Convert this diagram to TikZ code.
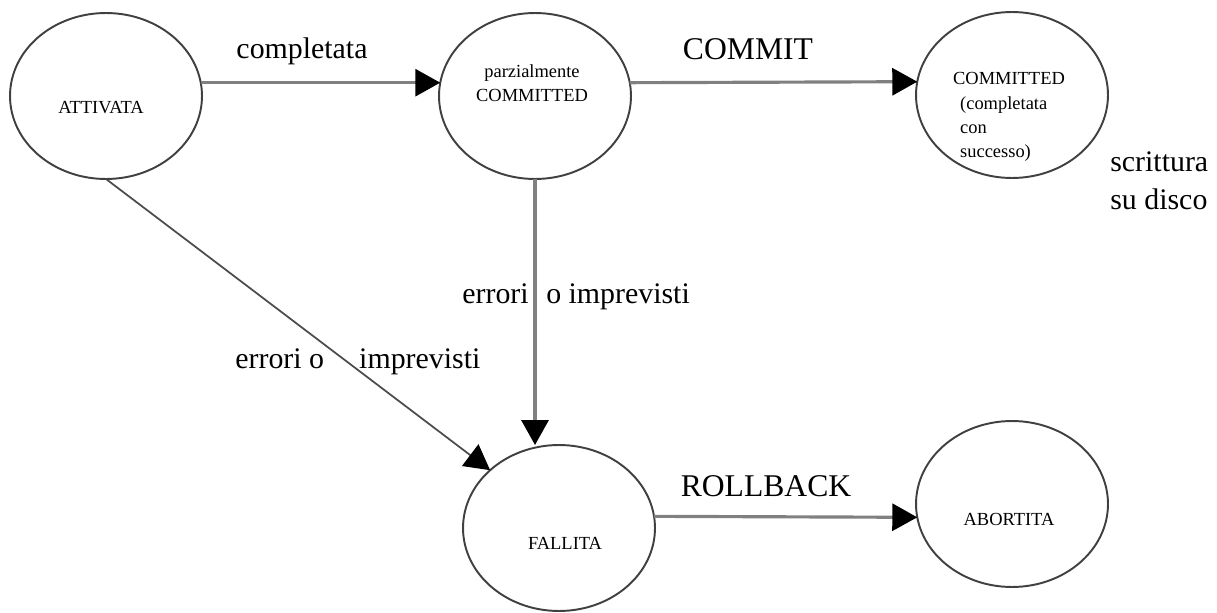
\documentclass[tikz,border=0pt]{standalone}
\usepackage{fontspec}
\setmainfont{Liberation Serif}
\usetikzlibrary{shapes.geometric,arrows.meta}

\tikzset{
    stato/.style = {draw = black!75, line width = 1.1pt, ellipse,
        minimum width = 3.84cm, minimum height = 3.32cm,
        inner sep = 0pt, outer sep = 0pt},
    nome/.style = {font = \fontsize{10.5}{13.8}\selectfont,
        align = center, inner sep = 0pt},
    freccia/.style = {draw = black!50, line width = 1.8pt,
        -{Triangle[length = 0.5cm, width = 0.54cm, color = black]}},
    etichetta/.style = {font = \fontsize{17}{21.5}\selectfont, inner sep = 0pt},
    grande/.style = {font = \fontsize{18}{22}\selectfont, inner sep = 0pt}
}

\begin{document}
\begin{tikzpicture}[x = 0.02cm, y = -0.02cm]
    \useasboundingbox (0,0) rectangle (1217,612);

    % stati
    \draw (106,96) node(A) [stato] {};
    \draw (535,96) node(P) [stato] {};
    \draw (1012,95) node(C) [stato] {};
    \draw (559,528) node(F) [stato] {};
    \draw (1012,504) node(B) [stato] {};

    % nomi degli stati
    \draw (101,108) node(At) [nome] {ATTIVATA};
    \draw (532,83) node(Pt) [nome] {parzialmente \\ COMMITTED};
    \draw (1009,117) node(Ct) [nome, align = left]
        {COMMITTED \\ \hspace*{4pt}(completata \\ \hspace*{4pt}con \\
        \hspace*{4pt}successo)};
    \draw (565,543) node(Ft) [nome] {FALLITA};
    \draw (1009,519) node(Bt) [nome] {ABORTITA};

    % transizioni
    \draw [freccia] (A.8) -- (P.172);
    \draw [freccia] (P.8) -- (C.172);
    \draw [freccia] (P.south) -- (P.south |- F.north);
    \draw [freccia, draw = black!70, line width = 1pt] (A.south) -- (F.140);
    \draw [freccia] (F.7) -- (B.188);

    % etichette
    \draw (302,51) node(Lcompl) [etichetta] {completata};
    \draw (748,49) node(Lcommit) [grande] {COMMIT};
    \draw (766,486) node(Lroll) [grande] {ROLLBACK};
    \draw (1110,181) node(Ldisco) [etichetta, anchor = west, align = left]
        {scrittura \\ su disco};
    \draw (235,362) node(Lerr1) [etichetta, anchor = west]
        {errori o\hspace{20pt}imprevisti};
    \draw (462,297) node(Lerr2) [etichetta, anchor = west]
        {errori\hspace{10pt}o imprevisti};
\end{tikzpicture}
\end{document}
